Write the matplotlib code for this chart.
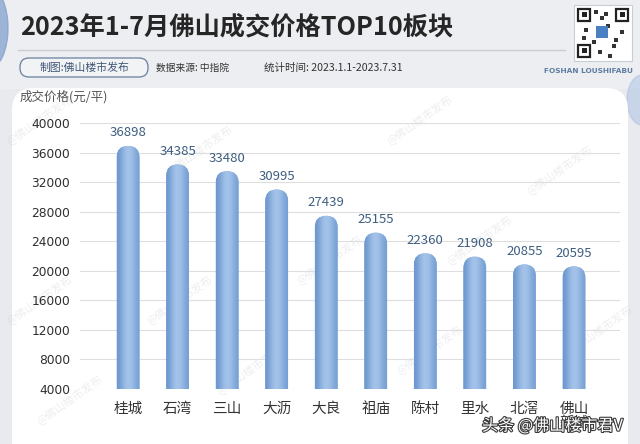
import numpy as np
import matplotlib
matplotlib.use('Agg')
import matplotlib.pyplot as plt
from matplotlib.patches import FancyBboxPatch, Rectangle, Ellipse
import matplotlib.patheffects as pe

plt.rcParams['font.family'] = ['Noto Sans CJK SC', 'DejaVu Sans']

# data
areas = ['桂城', '石湾', '三山', '大沥', '大良', '祖庙', '陈村', '里水', '北滘', '佛山\n新城']
prices = [36898, 34385, 33480, 30995, 27439, 25155, 22360, 21908, 20855, 20595]
yticks = [4000, 8000, 12000, 16000, 20000, 24000, 28000, 32000, 36000, 40000]

W, H = 640, 444
fig = plt.figure(figsize=(W / 100, H / 100), dpi=100)
fig.patch.set_facecolor('#e8eaee')

# background decorations in pixel coords (origin top-left)
bg = fig.add_axes([0, 0, 1, 1])
bg.set_xlim(0, W)
bg.set_ylim(H, 0)
bg.axis('off')

bg.add_patch(Rectangle((0, 0), W, 88, color='#eceef1', zorder=0))
bg.add_patch(Ellipse((-10, 28), 36, 80, color='#7d9ccc', alpha=0.7, zorder=0))
bg.add_patch(Ellipse((642, 100), 30, 50, color='#a9bfe2', alpha=0.5, zorder=0))
bg.add_patch(FancyBboxPatch((12, 88), 616, 400, boxstyle='round,pad=0,rounding_size=22',
                            facecolor='white', edgecolor='none', zorder=1))

bg.text(20, 27, '2023年1-7月佛山成交价格TOP10板块', fontsize=18.2, fontweight='bold',
        color='#262626', va='center', ha='left', zorder=3)
bg.plot([18, 565], [50, 50], color='#c9ccd2', lw=1, zorder=2)

bg.add_patch(FancyBboxPatch((20, 58), 128, 19, boxstyle='round,pad=0,rounding_size=9',
                            facecolor='#f2f3f5', edgecolor='#6a7f9f', lw=0.9, zorder=2))
bg.text(84, 67.5, '制图:佛山楼市发布', fontsize=7.8, color='#3d5576', ha='center', va='center', zorder=3)
bg.text(156, 67.5, '数据来源: 中指院', fontsize=7, color='#333333', ha='left', va='center', zorder=3)
bg.text(264, 67.5, '统计时间: 2023.1.1-2023.7.31', fontsize=7.6, color='#333333', ha='left', va='center', zorder=3)
bg.text(633, 71, 'FOSHAN LOUSHIFABU', fontsize=5.3, color='#5f7ea3', fontweight='bold',
        ha='right', va='center', family='DejaVu Sans', zorder=3)

# qr code placeholder
bg.add_patch(Rectangle((574, 5), 58, 56, facecolor='white', edgecolor='#c8ccd4', lw=0.8, zorder=2))
for qx, qy in [(578, 9), (616, 9), (578, 45)]:
    bg.add_patch(Rectangle((qx, qy), 12, 12, facecolor='none', edgecolor='#222222', lw=1.6, zorder=3))
    bg.add_patch(Rectangle((qx + 3.5, qy + 3.5), 5, 5, facecolor='#222222', zorder=3))
for qx, qy in [(594, 10), (600, 16), (606, 24), (584, 28), (592, 40), (612, 44), (620, 30),
               (598, 50), (608, 54), (582, 36), (614, 38), (604, 12)]:
    bg.add_patch(Rectangle((qx, qy), 4, 4, facecolor='#333333', zorder=3))
bg.add_patch(Rectangle((596, 26), 12, 12, facecolor='#4a7fc4', zorder=4))

# faint diagonal watermarks
for wx, wy in [(40, 120), (200, 150), (420, 120), (560, 170), (40, 300), (180, 300),
               (330, 260), (480, 240), (600, 330), (250, 370), (430, 350), (70, 400)]:
    bg.text(wx, wy, '@佛山楼市发布', fontsize=8, color='#9aa0a8', alpha=0.18,
            rotation=35, ha='center', va='center', zorder=2)

bg.text(20, 97, '成交价格(元/平)', fontsize=9, color='#555555', ha='left', va='center', zorder=3)

# chart axes
left, right, top, bottom = 80, 620, 123, 389
ax = fig.add_axes([left / W, 1 - bottom / H, (right - left) / W, (bottom - top) / H])
ax.patch.set_alpha(0)
xmin, xmax = -0.97, 9.93
ymin, ymax = 4000, 40000
ax.set_xlim(xmin, xmax)
ax.set_ylim(ymin, ymax)

for t in yticks:
    ax.axhline(t, color='#dedede', lw=0.8, zorder=0)

x = np.arange(len(areas))
width = 0.46
aspect = ((ymax - ymin) / (bottom - top)) / ((xmax - xmin) / (right - left))
grad = np.array([[0.0, 0.35, 0.7, 0.85, 0.7, 0.45, 0.15]])
cmap = matplotlib.colors.LinearSegmentedColormap.from_list('bar', ['#6d98cf', '#b0cdef'])
for xi, v in zip(x, prices):
    patch = FancyBboxPatch((xi - width / 2, 0), width, v,
                           boxstyle=f'round,pad=0,rounding_size={width / 2}',
                           mutation_aspect=aspect, facecolor='#84aadb', edgecolor='none', zorder=2)
    ax.add_patch(patch)
    im = ax.imshow(grad, cmap=cmap, vmin=0, vmax=1, extent=(xi - width / 2, xi + width / 2, 0, v),
                   aspect='auto', zorder=3, interpolation='bicubic')
    im.set_clip_path(patch)
    ax.text(xi, v + 900, f'{v}', ha='center', va='bottom', fontsize=9.5,
            color='#3e5e80', zorder=4)

ax.set_xlim(xmin, xmax)
ax.set_ylim(ymin, ymax)
ax.set_aspect('auto')
ax.set_yticks(yticks)
ax.set_yticklabels([str(t) for t in yticks], fontsize=8.8, color='#2e2e2e', family='DejaVu Sans')
ax.set_xticks(x)
ax.set_xticklabels(areas, fontsize=10.5, color='#333333', linespacing=1.0, va='top')
ax.tick_params(axis='both', length=0)
ax.tick_params(axis='y', pad=7)
ax.tick_params(axis='x', pad=9)
for s in ax.spines.values():
    s.set_visible(False)

# platform watermark bottom right, drawn over the second line of the last label
fig.text(482 / W, 1 - 426 / H, '头条 @佛山楼市君V', fontsize=11.6, color='white', ha='left', va='center',
         path_effects=[pe.withStroke(linewidth=1.6, foreground='#3a3a3a')])

fig.savefig('out.png', dpi=100, facecolor=fig.get_facecolor())
